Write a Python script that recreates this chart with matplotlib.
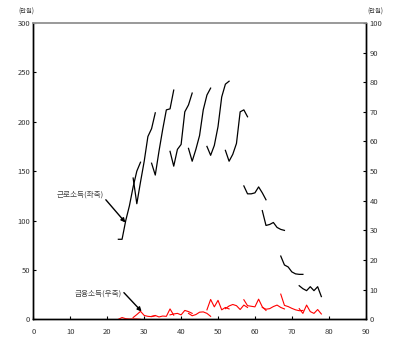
import matplotlib
matplotlib.use('Agg')
import matplotlib.pyplot as plt

plt.rcParams['font.family'] = ['Noto Sans CJK KR', 'DejaVu Sans']

# 코호트별 시작 연령 (각 7개 연도 관측)
start_age = [23, 27, 32, 37, 42, 47, 52, 57, 62, 67, 72]

# 근로소득 (좌축, 만원)
wage = [
    [81, 81, 100, 115, 134, 150, 159],
    [143, 117, 139, 160, 185, 193, 209],
    [158, 146, 170, 192, 212, 213, 232],
    [170, 155, 172, 177, 210, 217, 229],
    [173, 160, 172, 186, 212, 227, 234],
    [175, 166, 176, 195, 225, 238, 241],
    [171, 160, 167, 178, 210, 212, 205],
    [135, 127, 127, 128, 134, 128, 121],
    [110, 95, 96, 98, 93, 91, 90],
    [64, 55, 53, 48, 46, 45.5, 45.5],
    [34, 31, 29, 33, 29, 33, 23],
]

# 금융소득 (우축, 만원)
fin = [
    [0.0, 0.6, 0.2, 0.1, 0.1, 0.1, 0.0],
    [0.6, 1.6, 2.7, 1.3, 1.0, 0.9, 1.2],
    [1.0, 1.3, 0.8, 1.1, 1.0, 3.5, 1.4],
    [1.5, 1.8, 2.0, 1.5, 3.0, 2.6, 2.0],
    [2.0, 1.2, 1.6, 2.4, 2.5, 2.0, 1.0],
    [3.2, 6.7, 4.2, 6.4, 3.2, 4.0, 3.5],
    [3.6, 4.5, 5.0, 4.6, 3.3, 4.8, 4.0],
    [6.6, 4.6, 4.4, 4.2, 6.8, 4.2, 3.0],
    [4.0, 3.4, 3.6, 4.3, 4.8, 4.0, 3.5],
    [8.5, 4.7, 4.3, 3.7, 3.2, 2.9, 3.0],
    [3.6, 2.0, 4.8, 2.6, 2.0, 3.3, 1.8],
]

tick_color = '#333333'
fig = plt.figure(figsize=(3.94, 3.37), dpi=100)
ax = fig.add_axes([0.085, 0.0525, 0.843, 0.8795])
ax2 = ax.twinx()

for s, w, f in zip(start_age, wage, fin):
    ages = [s + i for i in range(len(w))]
    ax.plot(ages, w, color='black', lw=0.9)
    ax2.plot(ages, f, color='red', lw=0.8)

ax.set_xlim(0, 90)
ax.set_ylim(0, 300)
ax2.set_ylim(0, 100)
ax.set_xticks(range(0, 91, 10))
ax.set_yticks(range(0, 301, 50))
ax2.set_yticks(range(0, 101, 10))

ax.tick_params(axis='x', direction='in', length=2.5, pad=6, labelsize=5.5, labelcolor=tick_color)
ax.tick_params(axis='y', direction='in', length=2.5, pad=2.5, labelsize=5.5, labelcolor=tick_color)
ax2.tick_params(axis='y', direction='in', length=2.5, pad=3, labelsize=5.5, labelcolor=tick_color)

for a in (ax, ax2):
    a.spines['top'].set_color('#999999')
    a.spines['top'].set_linewidth(1.2)
    for side in ('left', 'right', 'bottom'):
        a.spines[side].set_linewidth(1.0)

ax.text(12.7, 126, '근로소득(좌축)', fontsize=5.5, color='#404040', ha='center', va='center')
ax.annotate('', xy=(24.9, 98), xytext=(19.6, 121),
            arrowprops=dict(arrowstyle='-|>', color='black', lw=1.0,
                            mutation_scale=6, shrinkA=0, shrinkB=0))

ax.text(17.6, 26.3, '금융소득(우축)', fontsize=5.5, color='#404040', ha='center', va='center')
ax.annotate('', xy=(29.3, 7.9), xytext=(24.5, 27),
            arrowprops=dict(arrowstyle='-|>', color='black', lw=1.0,
                            mutation_scale=6, shrinkA=0, shrinkB=0))

fig.text(26 / 394, 1 - 12 / 337, '(만원)', fontsize=4.5, color=tick_color, ha='center', va='center')
fig.text(375 / 394, 1 - 12 / 337, '(만원)', fontsize=4.5, color=tick_color, ha='center', va='center')

fig.savefig('out.png', dpi=100)
